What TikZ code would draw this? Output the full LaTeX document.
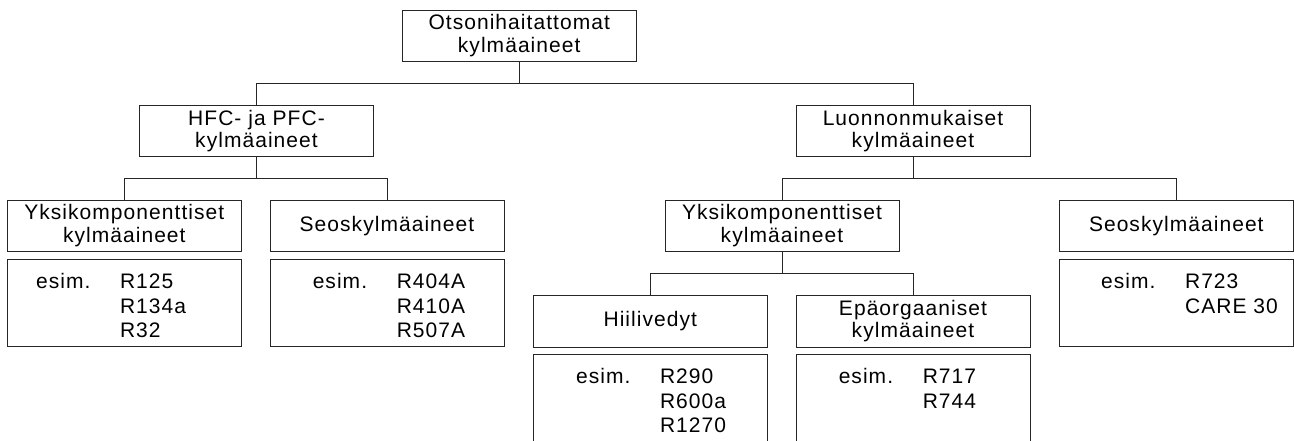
\documentclass[tikz,border=0pt]{standalone}
\usepackage{fontspec}
\setmainfont{Liberation Sans}[LetterSpace=5]
\usetikzlibrary{calc}
\begin{document}
\begin{tikzpicture}
[x=1pt,y=-1pt,
  headdecorate/.style={shape=rectangle,draw=black!85,line width=0.9pt,
    minimum width=234pt,minimum height=51.5pt,inner sep=0pt,align=center,
    font=\fontsize{21}{22.5}\selectfont},%
  exampledecorate/.style={shape=rectangle,draw=black!85,line width=0.9pt,
    minimum width=234pt,inner sep=0pt},%
  textdecorate/.style={inner sep=0pt,anchor=base west,
    font=\fontsize{21}{22.5}\selectfont},%
  linedecorate/.style={-,draw=black!85,line width=0.9pt,
    to path={(\tikztostart) |- ($(\tikztostart)!0.5!(\tikztotarget)$) -| (\tikztotarget)}}]
\useasboundingbox (0,0) rectangle (1294,441);
\clip (0,0) rectangle (1294,441);
%% heading boxes
\foreach \nodename/\x/\y/\label in {
  root/519.2/35.8/{Otsonihaitattomat\\kylmäaineet},
  hfc/256.5/131/{HFC- ja PFC-\\kylmäaineet},
  natural/913/131/{Luonnonmukaiset\\kylmäaineet},
  singlea/124.3/225.8/{Yksikomponenttiset\\kylmäaineet},
  blenda/387/225.8/{Seoskylmäaineet},
  singleb/782/225.8/{Yksikomponenttiset\\kylmäaineet},
  blendb/1176.3/225.8/{Seoskylmäaineet},
  carbon/650.3/321.3/{Hiilivedyt},
  inorganic/913/321.3/{Epäorgaaniset\\kylmäaineet}} {
  \node (\nodename) at (\x,\y) [headdecorate] {\label};
}
%% example boxes; the lowest two run past the bottom edge
\foreach \nodename/\x/\y/\h in {
  exa/124.3/302.8/87.7, exb/387/302.8/87.7, exc/1176.3/302.8/87.7,
  exd/650.3/402/96, exe/913/402/96} {
  \node (\nodename) at (\x,\y) [exampledecorate,minimum height=\h pt] {};
}
%% example texts
\foreach \nodename/\dx/\list in {
  exa/29/{R125,R134a,R32}, exb/43/{R404A,R410A,R507A},
  exc/42/{R723,CARE 30}, exd/43/{R290,R600a,R1270},
  exe/43/{R717,R744}} {
  \node (\nodename-esim) at ($(\nodename.north west)+(\dx,30)$) [textdecorate] {esim.};
  \foreach \val [count=\k] in \list {
    \node (\nodename-\k) at ($(\nodename.north west)+(\dx+84,5.3+24.7*\k)$) [textdecorate] {\val};
  }
}
%% edges or lines
\path
(root.south) edge[linedecorate] (hfc.north)
             edge[linedecorate] (natural.north)
(hfc.south) edge[linedecorate] (singlea.north)
            edge[linedecorate] (blenda.north)
(natural.south) edge[linedecorate] (singleb.north)
                edge[linedecorate] (blendb.north)
(singleb.south) edge[linedecorate] (carbon.north)
                edge[linedecorate] (inorganic.north);
\end{tikzpicture}
\end{document}
